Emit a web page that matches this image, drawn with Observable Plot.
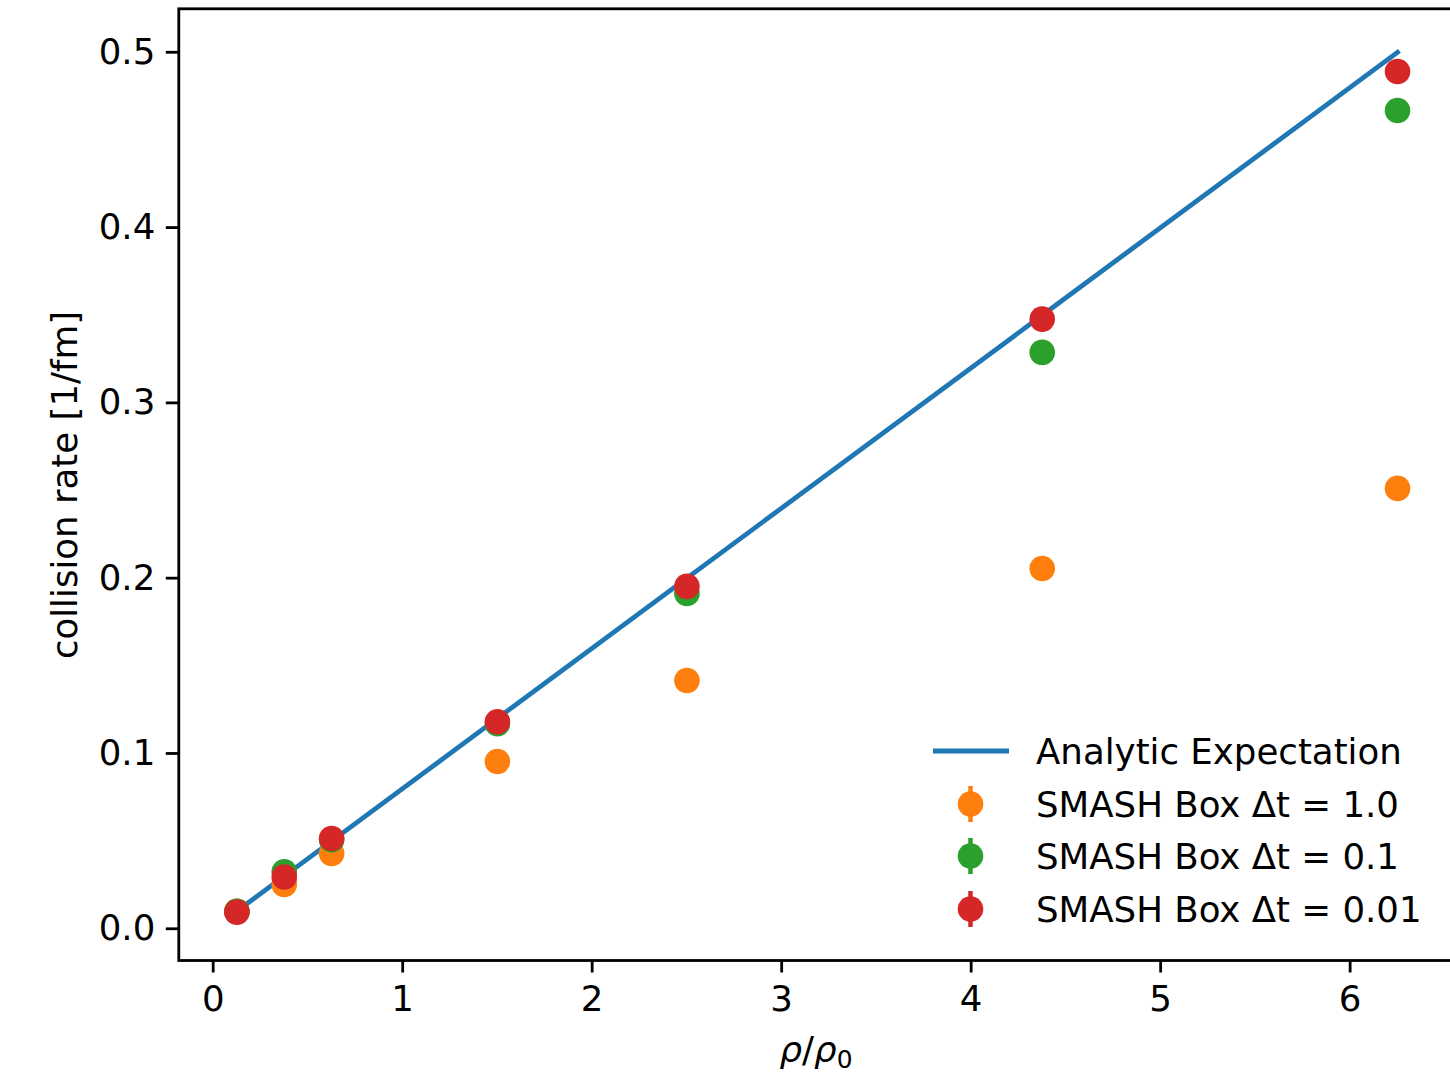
<!DOCTYPE html>
<html><head><meta charset="utf-8">
<script src="https://cdn.jsdelivr.net/npm/d3@7"></script>
<script src="https://cdn.jsdelivr.net/npm/@observablehq/plot@0.6"></script>
<style>html,body{margin:0;padding:0;overflow:hidden;background:#fff;} svg{max-width:none !important;}</style>
</head><body><div id="chart"></div>
<script>
// Data
const density = [0.125, 0.375, 0.625, 1.5, 2.5, 4.375, 6.25];
const analytic = [0.01, 0.03, 0.05, 0.12, 0.2, 0.35, 0.5];
const rateDt1 = [0.0099, 0.0253, 0.0430, 0.0954, 0.1416, 0.2055, 0.2512];
const rateDt01 = [0.0099, 0.0325, 0.0508, 0.1170, 0.1913, 0.3288, 0.4668];
const rateDt001 = [0.0095, 0.0295, 0.0515, 0.1181, 0.1953, 0.3478, 0.4890];
const seriesNames = ["Analytic Expectation", "SMASH Box \u0394t = 1.0", "SMASH Box \u0394t = 0.1", "SMASH Box \u0394t = 0.01"];
const seriesColors = ["#1f77b4", "#ff7f0e", "#2ca02c", "#d62728"];
const xTicks = [0, 1, 2, 3, 4, 5, 6];
const yTicks = [0, 0.1, 0.2, 0.3, 0.4, 0.5];

const toRows = (vals) => density.map((x, i) => ({x, y: vals[i]}));
const lineRows = toRows(analytic);
const dt1Rows = toRows(rateDt1);
const dt01Rows = toRows(rateDt01);
const dt001Rows = toRows(rateDt001);

const font = "DejaVu Sans, sans-serif";
const fs = 35.6;
const chart = Plot.plot({
  width: 1460, height: 1074,
  marginLeft: 178.3, marginRight: 5, marginTop: 8.3, marginBottom: 114,
  style: {fontFamily: font, fontSize: fs + "px", color: "#000", background: "#fff", overflow: "visible", maxWidth: "none"},
  x: {domain: [-0.1815, 6.556]},
  y: {domain: [-0.0181, 0.5248]},
  marks: [
    Plot.line(lineRows, {x: "x", y: "y", stroke: seriesColors[0], strokeWidth: 4.8, strokeLinecap: "square"}),
    Plot.dot(dt1Rows, {x: "x", y: "y", r: 12.8, fill: seriesColors[1], stroke: "none"}),
    Plot.dot(dt01Rows, {x: "x", y: "y", r: 12.8, fill: seriesColors[2], stroke: "none"}),
    Plot.dot(dt001Rows, {x: "x", y: "y", r: 12.8, fill: seriesColors[3], stroke: "none"}),
    Plot.frame({stroke: "#000", strokeWidth: 2.8}),
    Plot.axisX({ticks: xTicks, tickSize: 12.5, tickPadding: 13, strokeWidth: 2.8, fontSize: fs, label: null, tickFormat: d => String(d)}),
    Plot.axisY({ticks: yTicks, tickSize: 12.5, tickPadding: 11, strokeWidth: 2.8, fontSize: fs, label: null, tickFormat: d3.format(".1f")})
  ]
});
document.getElementById("chart").appendChild(chart);

const svg = d3.select(chart);
// y label
svg.append("text")
  .attr("transform", "translate(64,485) rotate(-90)")
  .attr("text-anchor", "middle").attr("dominant-baseline", "central")
  .attr("font-family", font).attr("font-size", fs).attr("fill", "#000")
  .text("collision rate [1/fm]");
// x label
const xl = svg.append("text")
  .attr("x", 816).attr("y", 1062)
  .attr("text-anchor", "middle")
  .attr("font-family", font).attr("font-size", fs).attr("fill", "#000");
xl.append("tspan").attr("font-style", "italic").text("\u03c1");
xl.append("tspan").text("/");
xl.append("tspan").attr("font-style", "italic").text("\u03c1");
xl.append("tspan").attr("font-size", fs * 0.7).attr("dy", 6).text("0");

// legend
const lg = svg.append("g").attr("font-family", font).attr("font-size", fs).attr("text-anchor", "start");
const rowY = [751, 804, 856, 909];
seriesNames.forEach((name, i) => {
  const y = rowY[i];
  if (i === 0) {
    lg.append("line").attr("x1", 933).attr("x2", 1009).attr("y1", y).attr("y2", y)
      .attr("stroke", seriesColors[0]).attr("stroke-width", 4.8);
  } else {
    lg.append("line").attr("x1", 970.5).attr("x2", 970.5).attr("y1", y - 18).attr("y2", y + 18)
      .attr("stroke", seriesColors[i]).attr("stroke-width", 4.5);
    lg.append("circle").attr("cx", 970.5).attr("cy", y).attr("r", 12.8).attr("fill", seriesColors[i]);
  }
  lg.append("text").attr("x", 1036).attr("y", y).attr("dominant-baseline", "central")
    .attr("text-anchor", "start").attr("fill", "#000").text(name);
});
</script>
</body></html>
